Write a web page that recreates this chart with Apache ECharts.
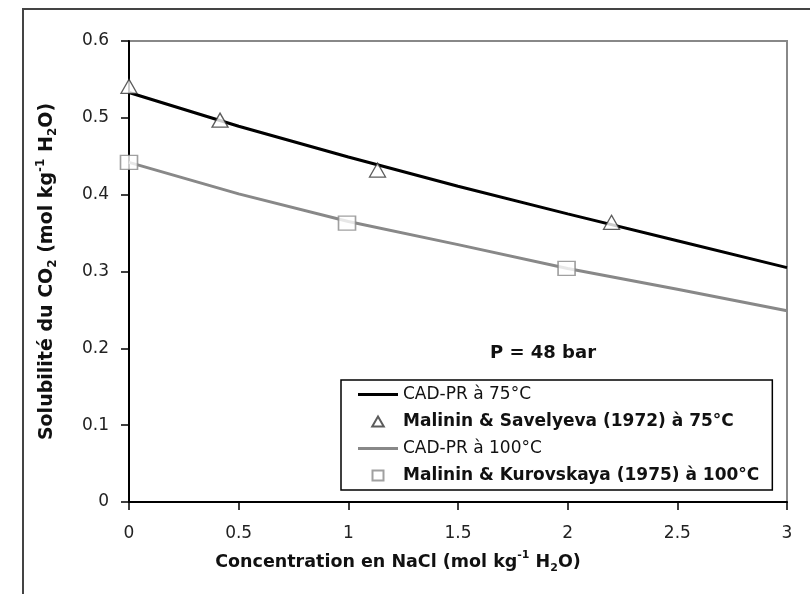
<!DOCTYPE html>
<html>
<head>
<meta charset="utf-8">
<script src="https://cdn.jsdelivr.net/npm/echarts@6/dist/echarts.min.js"></script>
<style>html,body{margin:0;padding:0;background:#fff;}#c{width:810px;height:594px;}</style>
</head>
<body>
<div id="c"></div>
<script>
// ---- data ----
const xCurve = [0, 0.5, 1, 1.5, 2, 2.5, 3];
const cad75 = [0.533, 0.489, 0.449, 0.411, 0.375, 0.340, 0.305];
const cad100 = [0.442, 0.401, 0.365, 0.335, 0.304, 0.277, 0.249];
const exp75X = [0, 0.415, 1.133, 2.2];
const exp75Y = [0.541, 0.497, 0.432, 0.364];
const exp100X = [0, 0.994, 1.995];
const exp100Y = [0.442, 0.363, 0.304];
const xTickLabels = ['0', '0.5', '1', '1.5', '2', '2.5', '3'];
const yTickLabels = ['0', '0.1', '0.2', '0.3', '0.4', '0.5', '0.6'];
const seriesNames = ['CAD-PR à 75°C', 'Malinin & Savelyeva (1972) à 75°C', 'CAD-PR à 100°C', 'Malinin & Kurovskaya (1975) à 100°C'];
const annotation = 'P = 48 bar';

const pairs = (xs, ys) => xs.map((x, i) => [x, ys[i]]);
const FONT = 'DejaVu Sans';
const LINE_ICON = 'path://M0,0H40V3H0Z';
const TRI_ICON = 'path://M5,0L10,8.66L0,8.66Z';
const SQ_ICON = 'path://M0,0H11V10H0Z';

const chart = echarts.init(document.getElementById('c'), null, {renderer: 'canvas'});
chart.setOption({
  animation: false,
  backgroundColor: '#fff',
  textStyle: {fontFamily: FONT},
  graphic: [{
    type: 'rect', shape: {x: 23, y: 9, width: 900, height: 700},
    style: {fill: 'none', stroke: '#444', lineWidth: 2}, silent: true, z: -1
  }],
  title: {
    text: annotation, left: 490, top: 344, padding: 0,
    textStyle: {fontFamily: FONT, fontSize: 18, fontWeight: 'bold', color: '#111'}
  },
  grid: {
    left: 129, right: 23, top: 41, bottom: 92,
    show: true, borderColor: '#888', borderWidth: 2, backgroundColor: '#fff'
  },
  xAxis: {
    type: 'value', min: 0, max: 3, interval: 0.5,
    axisLine: {show: true, lineStyle: {color: '#000', width: 2}},
    axisTick: {show: true, inside: false, length: 8, lineStyle: {color: '#000', width: 1.5}},
    splitLine: {show: false},
    axisLabel: {
      margin: 23, fontSize: 17, color: '#222', fontFamily: FONT,
      formatter: v => xTickLabels[Math.round(v / 0.5)]
    },
    name: 'Concentration en NaCl (mol kg{sup|-1} H{sub|2}O)',
    nameLocation: 'middle', nameGap: 48,
    nameTextStyle: {
      fontFamily: FONT, fontSize: 17.5, fontWeight: 'bold', color: '#111', lineHeight: 24,
      padding: [0, 120, 0, 0],
      rich: {
        sup: {fontSize: 11, fontWeight: 'bold', verticalAlign: 'top', lineHeight: 12, color: '#111', fontFamily: FONT},
        sub: {fontSize: 11, fontWeight: 'bold', verticalAlign: 'bottom', lineHeight: 12, color: '#111', fontFamily: FONT}
      }
    }
  },
  yAxis: {
    type: 'value', min: 0, max: 0.6, interval: 0.1,
    axisLine: {show: true, lineStyle: {color: '#000', width: 2}},
    axisTick: {show: true, inside: false, length: 8, lineStyle: {color: '#000', width: 1.5}},
    splitLine: {show: false},
    axisLabel: {
      margin: 20, fontSize: 17, color: '#222', fontFamily: FONT,
      formatter: v => yTickLabels[Math.round(v / 0.1)]
    },
    name: 'Solubilité du CO{sub|2} (mol kg{sup|-1} H{sub|2}O)',
    nameLocation: 'middle', nameGap: 70,
    nameTextStyle: {
      fontFamily: FONT, fontSize: 19, fontWeight: 'bold', color: '#111', lineHeight: 24,
      rich: {
        sup: {fontSize: 12, fontWeight: 'bold', verticalAlign: 'top', lineHeight: 12, color: '#111', fontFamily: FONT},
        sub: {fontSize: 12, fontWeight: 'bold', verticalAlign: 'bottom', lineHeight: 12, color: '#111', fontFamily: FONT}
      }
    }
  },
  legend: {
    orient: 'vertical', left: 341, top: 380,
    padding: [6, 13, 6, 17],
    itemWidth: 40, itemHeight: 10, itemGap: 10,
    symbolKeepAspect: true,
    backgroundColor: '#fff', borderColor: '#000', borderWidth: 1.5, borderRadius: 0,
    data: [
      {name: seriesNames[0], icon: LINE_ICON},
      {name: seriesNames[1], icon: TRI_ICON},
      {name: seriesNames[2], icon: LINE_ICON},
      {name: seriesNames[3], icon: SQ_ICON}
    ],
    formatter: name => (name.indexOf('CAD') === 0 ? '{n|' + name + '}' : '{b|' + name + '}'),
    textStyle: {
      fontFamily: FONT, fontSize: 17, color: '#111',
      rich: {
        n: {fontFamily: FONT, fontSize: 17, fontWeight: 'normal', color: '#111'},
        b: {fontFamily: FONT, fontSize: 17, fontWeight: 'bold', color: '#111'}
      }
    }
  },
  series: [
    {
      name: seriesNames[0], type: 'line', data: pairs(xCurve, cad75),
      symbol: 'none', smooth: false, z: 2,
      lineStyle: {color: '#000', width: 3}, itemStyle: {color: '#000'}
    },
    {
      name: seriesNames[1], type: 'scatter', data: pairs(exp75X, exp75Y),
      symbol: 'triangle', symbolSize: [16, 14], z: 4,
      itemStyle: {color: '#fff', borderColor: '#333', borderWidth: 1.3}
    },
    {
      name: seriesNames[2], type: 'line', data: pairs(xCurve, cad100),
      symbol: 'none', smooth: false, z: 2,
      lineStyle: {color: '#888', width: 3}, itemStyle: {color: '#888'}
    },
    {
      name: seriesNames[3], type: 'scatter', data: pairs(exp100X, exp100Y),
      symbol: 'rect', symbolSize: [17, 14], z: 4,
      itemStyle: {color: '#fff', borderColor: '#888', borderWidth: 1.5}
    }
  ]
});
</script>
</body>
</html>
